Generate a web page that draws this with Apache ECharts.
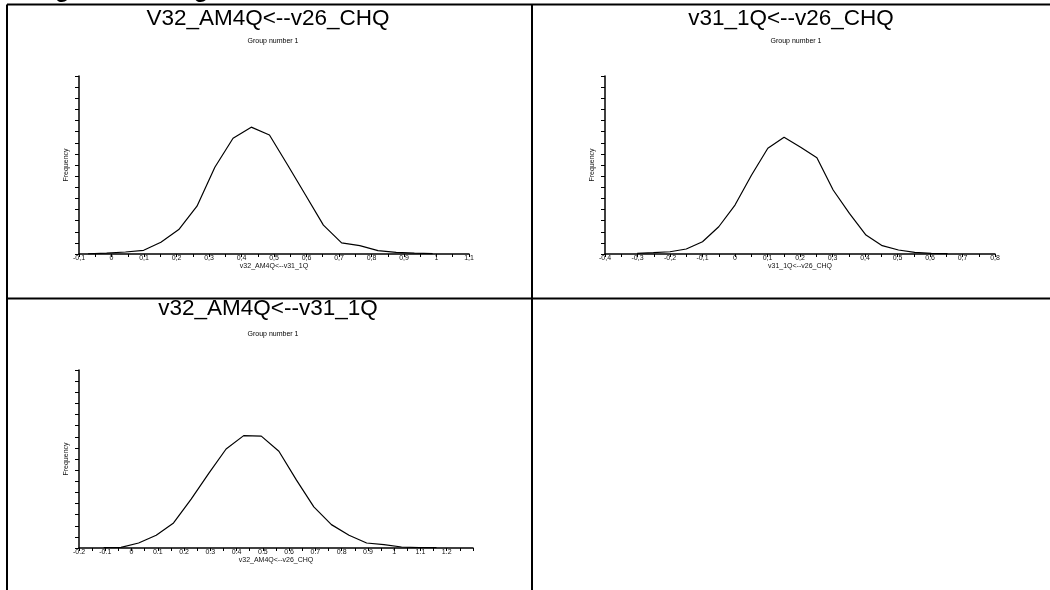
<!DOCTYPE html>
<html>
<head>
<meta charset="utf-8">
<script src="https://cdn.jsdelivr.net/npm/echarts@6/dist/echarts.min.js"></script>
<style>
  html, body { margin: 0; padding: 0; background: #fff; }
  #chart { width: 1050px; height: 590px; }
</style>
</head>
<body>
<div id="chart"></div>
<script>
// Bootstrap distributions of three regression estimates
const headerText = 'Histograms of Regression Estimates';
const panelTitles = ['V32_AM4Q<--v26_CHQ', 'v31_1Q<--v26_CHQ', 'v32_AM4Q<--v31_1Q'];
const axisNames = ['v32_AM4Q<--v31_1Q', 'v31_1Q<--v26_CHQ', 'v32_AM4Q<--v26_CHQ'];
const groupLabel = 'Group number 1';
const freqLabel = 'Frequency';

// panel A: V32_AM4Q<--v26_CHQ
const estA = [-0.072, -0.015, 0.043, 0.099, 0.152, 0.207, 0.263, 0.318, 0.374, 0.430,
              0.486, 0.542, 0.597, 0.652, 0.708, 0.764, 0.820, 0.876, 0.932, 0.988];
const freqA = [0.2, 0.8, 1.8, 3.3, 10.5, 22, 43, 78, 104, 114,
               107, 80, 53, 26, 10, 7.5, 3, 1.5, 0.7, 0.3];
const ticksA = ['-0,1', '0', '0,1', '0,2', '0,3', '0,4', '0,5', '0,6', '0,7', '0,8', '0,9', '1', '1,1'];

// panel B: v31_1Q<--v26_CHQ
const estB = [-0.301, -0.251, -0.200, -0.150, -0.100, -0.050, 0.000, 0.051, 0.101, 0.151,
              0.202, 0.252, 0.302, 0.352, 0.403, 0.453, 0.503, 0.553, 0.604, 0.654];
const freqB = [0.6, 1.2, 2, 4.5, 11, 24.5, 44, 71, 95, 105,
               96, 86.5, 57.5, 36.5, 17, 7.5, 3.6, 1.5, 0.6, 0.3];
const ticksB = ['-0,4', '-0,3', '-0,2', '-0,1', '0', '0,1', '0,2', '0,3', '0,4', '0,5', '0,6', '0,7', '0,8'];

// panel C: v32_AM4Q<--v31_1Q
const estC = [-0.106, -0.040, 0.027, 0.094, 0.160, 0.227, 0.294, 0.360, 0.427, 0.494,
              0.561, 0.628, 0.694, 0.761, 0.828, 0.895, 0.961, 1.028, 1.095, 1.161];
const freqC = [0.3, 0.6, 4.5, 11.4, 22.5, 44, 67, 89, 101, 100.6,
               87, 61, 37, 21, 11.4, 4.5, 3, 0.9, 0.4, 0.3];
const ticksC = ['-0.2', '-0.1', '0', '0.1', '0.2', '0.3', '0.4', '0.5', '0.6', '0.7', '0.8',
                '0.9', '1', '1.1', '1.2', ''];

const FONT = "'Liberation Sans', Arial, sans-serif";
const panels = [
  { est: estA, freq: freqA, ticks: ticksA, min: -0.1, max: 1.1,
    grid: { left: 79, top: 76, width: 390, height: 178 } },
  { est: estB, freq: freqB, ticks: ticksB, min: -0.4, max: 0.8,
    grid: { left: 605, top: 76, width: 390, height: 178 } },
  { est: estC, freq: freqC, ticks: ticksC, min: -0.2, max: 1.3,
    grid: { left: 79, top: 370, width: 394, height: 178 } }
];

const chart = echarts.init(document.getElementById('chart'), null, { renderer: 'canvas' });

const grids = panels.map(p => p.grid);
const xAxes = panels.map((p, i) => ({
  type: 'value', gridIndex: i, min: p.min, max: p.max, interval: 0.1,
  name: axisNames[i], nameLocation: 'middle', nameGap: 7,
  nameTextStyle: { fontSize: 7, color: '#111', fontFamily: FONT },
  axisLine: { onZero: false, lineStyle: { color: '#000', width: 1.5 } },
  axisTick: { show: true, length: 3, lineStyle: { color: '#000', width: 1 } },
  minorTick: { show: true, splitNumber: 2, length: 3, lineStyle: { color: '#000', width: 1 } },
  splitLine: { show: false },
  axisLabel: {
    margin: 1, fontSize: 7, color: '#111', fontFamily: FONT,
    showMinLabel: true, showMaxLabel: true, hideOverlap: false,
    formatter: v => p.ticks[Math.round((v - p.min) / 0.1)] ?? ''
  }
}));
const yAxes = panels.map((p, i) => ({
  type: 'value', gridIndex: i, min: 0, max: 160, interval: 10,
  name: freqLabel, nameLocation: 'middle', nameGap: 9, nameRotate: 90,
  nameTextStyle: { fontSize: 7, color: '#111', fontFamily: FONT },
  axisLine: { show: true, onZero: false, lineStyle: { color: '#000', width: 1.5 } },
  axisTick: { show: true, length: 4, lineStyle: { color: '#000', width: 1 } },
  axisLabel: { show: false },
  splitLine: { show: false }
}));
const series = panels.map((p, i) => ({
  type: 'line', xAxisIndex: i, yAxisIndex: i, showSymbol: false, animation: false,
  lineStyle: { color: '#000', width: 1.2 },
  data: p.est.map((x, k) => [x, p.freq[k]])
}));

const line = (x1, y1, x2, y2) => ({
  type: 'line', shape: { x1, y1, x2, y2 },
  style: { stroke: '#000', lineWidth: 2 }, silent: true
});
const text = (str, x, y, font) => ({
  type: 'text', x, y, silent: true,
  style: { text: str, font, fill: '#000', align: 'center', verticalAlign: 'middle' }
});

const graphic = [
  { type: 'text', x: -5, y: -10, silent: true,
    style: { text: headerText, font: "bold 24px " + FONT, fill: '#000', align: 'left', verticalAlign: 'middle' } },
  line(7, 4.5, 1050, 4.5),
  line(7, 4.5, 7, 590),
  line(532, 4.5, 532, 590),
  line(7, 298.5, 1050, 298.5),
  text(panelTitles[0], 268, 18.6, "22.5px " + FONT),
  text(panelTitles[1], 791, 18.6, "22.5px " + FONT),
  text(panelTitles[2], 268, 309, "22.5px " + FONT),
  text(groupLabel, 273, 41.5, "7px " + FONT),
  text(groupLabel, 796, 41.5, "7px " + FONT),
  text(groupLabel, 273, 334, "7px " + FONT)
];

chart.setOption({
  animation: false,
  backgroundColor: '#fff',
  grid: grids,
  xAxis: xAxes,
  yAxis: yAxes,
  series,
  graphic
});
</script>
</body>
</html>
